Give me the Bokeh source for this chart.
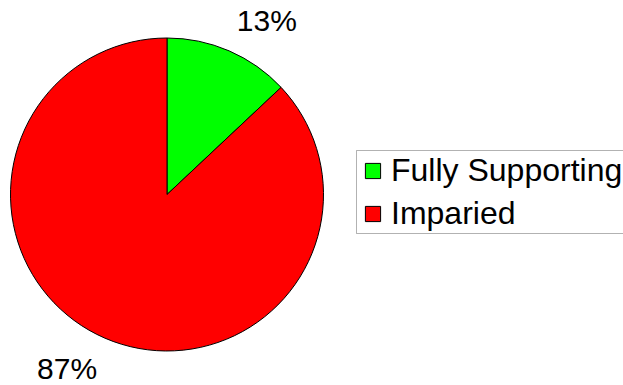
import math
import numpy as np
from bokeh.plotting import figure
from bokeh.models import ColumnDataSource, Range1d, Legend, LegendItem, BoxAnnotation
from bokeh.core.properties import value
from bokeh.embed import file_html
from bokeh.resources import INLINE

categories = ["Fully Supporting", "Imparied"]
percents = [13, 87]
colors = ["#00ff00", "#ff0000"]

W, H = 623, 385
p = figure(width=W, height=H, output_backend="svg", toolbar_location=None,
           x_range=Range1d(0, W), y_range=Range1d(0, H),
           min_border=0, outline_line_color=None)
p.axis.visible = False
p.xgrid.visible = False
p.ygrid.visible = False

cx, cy, R = 166.5, H - 194, 156.5
vals = np.array(percents, dtype=float)
cum = np.cumsum(vals) / vals.sum() * 2 * math.pi
prev = np.concatenate([[0.0], cum[:-1]])
start = math.pi / 2 - prev
end = math.pi / 2 - cum
mid = (start + end) / 2 - math.radians(6.4)
lab_r = 201
src = ColumnDataSource(dict(
    label=categories, start=start, end=end, color=colors,
    tx=cx + lab_r * np.cos(mid), ty=cy + lab_r * np.sin(mid),
    txt=[f"{v}%" for v in percents],
    x=[cx] * len(percents), y=[cy] * len(percents)))

r = p.wedge(x="x", y="y", radius=R, start_angle="start", end_angle="end",
            direction="clock", fill_color="color", line_color="black",
            line_width=1, source=src)

p.text(x="tx", y="ty", text="txt", source=src, text_align="center",
       text_baseline="middle", text_font=value("Liberation Sans"),
       text_font_size="30px", text_color="black")

# legend frame
p.add_layout(BoxAnnotation(left=356, right=640, bottom=H - 233, top=H - 150,
                           fill_color="white", fill_alpha=1.0,
                           line_color="black", line_width=1, level="underlay"))

legend = Legend(items=[LegendItem(label=c, renderers=[r], index=i)
                       for i, c in enumerate(categories)],
                location=(363, 153), border_line_color=None,
                background_fill_alpha=0.0,
                label_text_font="Liberation Sans", label_text_font_size="32px",
                label_text_color="black",
                glyph_width=19, glyph_height=19, label_standoff=9,
                padding=9, spacing=6, margin=0)
p.add_layout(legend)

open("out.html", "w").write(file_html(p, INLINE))
